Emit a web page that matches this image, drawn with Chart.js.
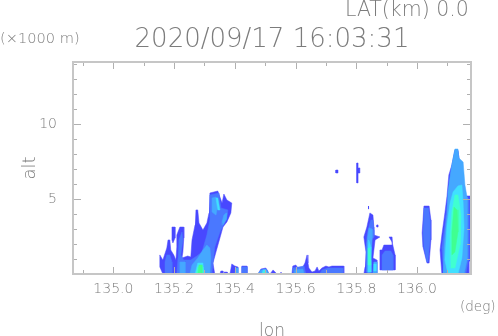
<!DOCTYPE html>
<html><head><meta charset="utf-8">
<style>html,body{margin:0;padding:0;background:#fff}#w{width:498px;height:336px;position:relative}</style>
<script src="https://cdn.jsdelivr.net/npm/chart.js@4"></script></head>
<body><div id="w"><canvas id="c" width="498" height="336"></canvas></div>
<script>
const levelColors = ['#4848ff','#4a78ff','#45a8ff','#40e0ff','#40ffd0','#40ff90'];
const xMajorTicks = [135.0,135.2,135.4,135.6,135.8,136.0];
const xMinorTicks = [134.9,135.1,135.3,135.5,135.7,135.9,136.1];
const yMajorTicks = [5,10];
const yMinorTicks = [1,2,3,4,6,7,8,9,11,12,13,14];
const titleText = '2020/09/17 16:03:31';

// Echo contours: [lon (deg), alt (x1000 m)], one list per reflectivity band
const deep = [
 [[135.163,0],[135.153,.47],[135.153,1.27],[135.163,.93],[135.176,1.73],[135.180,2.27],[135.186,2.27],[135.189,1.6],[135.199,1.27],[135.206,.93],[135.209,1.8],[135.209,2.6],[135.219,3.13],[135.232,3.13],[135.232,2.4],[135.229,1.47],[135.226,1.07],[135.245,1.2],[135.255,1.13],[135.259,2.27],[135.269,3.27],[135.272,4.27],[135.278,4.27],[135.282,3.4],[135.295,2.93],[135.308,3.4],[135.315,4.07],[135.318,5.4],[135.344,5.53],[135.351,5.13],[135.358,4.73],[135.364,5.33],[135.374,4.93],[135.390,4.73],[135.387,4.07],[135.374,3.47],[135.361,3.13],[135.351,2.4],[135.338,1.47],[135.328,.73],[135.334,0]],
 [[135.193,3.13],[135.203,3.13],[135.203,2.4],[135.196,2.07],[135.193,2.27]],
 [[135.351,0],[135.354,.2],[135.361,.2],[135.361,0]],
 [[135.384,0],[135.390,.67],[135.400,.53],[135.410,.47],[135.410,0]],
 [[135.423,0],[135.423,.53],[135.440,.53],[135.440,0]],
 [[135.365,0],[135.365,.13],[135.375,.13],[135.375,0]],
 [[135.476,0],[135.486,.33],[135.502,.4],[135.509,.2],[135.512,0]],
 [[135.516,0],[135.526,.27],[135.539,0]],
 [[135.549,0],[135.552,.13],[135.555,0]],
 [[135.588,0],[135.591,.53],[135.601,.6],[135.608,.4],[135.624,.47],[135.631,.73],[135.638,1.27],[135.641,.73],[135.644,.4],[135.654,.13],[135.664,.2],[135.671,.47],[135.677,.2],[135.687,.4],[135.700,.53],[135.710,.47],[135.720,.53],[135.759,.53],[135.759,0]],
 [[135.733,6.73],[135.740,6.73],[135.740,6.93],[135.733,6.93]],
 [[135.802,6.07],[135.806,6.07],[135.806,6.73],[135.812,6.73],[135.812,7.07],[135.806,7.07],[135.806,7.4],[135.802,7.4]],
 [[135.825,0],[135.829,.47],[135.832,1.47],[135.825,2.47],[135.835,3.13],[135.845,4.07],[135.855,3.93],[135.858,3.13],[135.858,2.6],[135.878,2.47],[135.862,2.27],[135.855,1.07],[135.868,.93],[135.868,0]],
 [[135.839,4.33],[135.842,4.33],[135.842,4.53],[135.839,4.53]],
 [[135.868,3.13],[135.872,3.13],[135.872,3.27],[135.868,3.27]],
 [[135.878,.27],[135.878,1.6],[135.885,1.6],[135.891,1.93],[135.921,1.93],[135.918,2.47],[135.908,2.47],[135.918,2.13],[135.928,1.27],[135.928,.27]],
 [[136.017,2.73],[136.023,4.53],[136.040,4.53],[136.046,3.6],[136.046,2.27],[136.040,.73],[136.033,.73],[136.020,1.8]],
 [[136.082,0],[136.076,1.6],[136.082,2.6],[136.092,4.07],[136.099,5.2],[136.105,6.6],[136.115,7.27],[136.125,8.27],[136.135,8.27],[136.152,5.2],[136.175,5.2],[136.178,5.2],[136.178,.93],[136.171,.8],[136.171,0]]
];
const mid = [
 [[135.170,0],[135.170,.8],[135.176,1.27],[135.186,1.27],[135.193,.8],[135.193,0]],
 [[135.209,0],[135.213,1.07],[135.216,2.27],[135.226,2.8],[135.229,2.27],[135.222,1.27],[135.232,.93],[135.245,.93],[135.255,.93],[135.275,1.2],[135.292,1.47],[135.308,2.6],[135.318,3.6],[135.318,5.27],[135.348,5.4],[135.354,4.4],[135.377,4.27],[135.374,3.73],[135.351,2.8],[135.334,1.8],[135.325,.13],[135.325,0]],
 [[135.423,0],[135.423,.47],[135.440,.47],[135.440,0]],
 [[135.591,0],[135.591,.4],[135.628,.53],[135.634,0]],
 [[135.680,0],[135.687,.27],[135.707,.4],[135.756,.4],[135.756,0]],
 [[135.835,0],[135.835,1.6],[135.835,2.47],[135.839,2.93],[135.848,3.6],[135.855,3.6],[135.858,2.93],[135.858,2.47],[135.852,2.27],[135.848,.93],[135.852,0]],
 [[135.885,.27],[135.885,1.27],[135.895,1.53],[135.914,1.53],[135.921,1.27],[135.921,.27]],
 [[136.020,2.8],[136.023,4.4],[136.038,4.4],[136.043,3.6],[136.043,2.27],[136.036,.8],[136.033,.8],[136.023,1.8]],
 [[136.089,0],[136.082,1.73],[136.092,3.27],[136.102,5.2],[136.112,6.93],[136.125,8.2],[136.135,8.2],[136.158,5.2],[136.171,5],[136.171,.93],[136.168,.8],[136.161,0]]
];
const sky = [
 [[135.219,0],[135.219,.8],[135.236,.8],[135.236,0]],
 [[135.252,0],[135.259,.6],[135.278,1.07],[135.295,1.6],[135.308,1.93],[135.318,1.73],[135.321,1.07],[135.318,0]],
 [[135.325,5.07],[135.338,5.13],[135.344,4.6],[135.338,3.93],[135.325,4.13]],
 [[135.364,3.93],[135.374,4.07],[135.371,3.6],[135.361,3.27],[135.358,3.47]],
 [[135.400,0],[135.403,.4],[135.410,.4],[135.410,0]],
 [[135.476,0],[135.486,.27],[135.502,.33],[135.509,.13],[135.509,0]],
 [[135.595,0],[135.598,.27],[135.624,.33],[135.628,0]],
 [[135.835,.13],[135.835,2.07],[135.842,3.07],[135.852,3],[135.852,2.4],[135.848,.93],[135.848,.13]],
 [[135.855,0],[135.858,.8],[135.868,.8],[135.868,0]],
 [[136.086,0],[136.089,1.73],[136.099,3.93],[136.102,5.47],[136.115,7.27],[136.125,8.33],[136.135,8.33],[136.138,7.73],[136.152,7.47],[136.158,5.93],[136.165,5.13],[136.165,3.27],[136.165,.93],[136.155,0]]
];
const cyan = [
 [[135.269,0],[135.278,.73],[135.295,.73],[135.298,0]],
 [[135.338,5.07],[135.344,5.07],[135.351,4.27],[135.344,4.27]],
 [[135.489,0],[135.493,.27],[135.502,.27],[135.505,0]],
 [[135.839,.13],[135.839,1.8],[135.842,2.27],[135.848,1.8],[135.848,.13]],
 [[135.858,.2],[135.858,.67],[135.865,.67],[135.865,.2]],
 [[136.102,0],[136.092,.93],[136.099,3.27],[136.109,4.73],[136.119,5.47],[136.135,5.87],[136.148,5.93],[136.152,4.8],[136.155,3.07],[136.148,1.07],[136.135,0]]
];
const teal = [
 [[135.272,0],[135.278,.47],[135.292,.47],[135.295,0]],
 [[135.839,.6],[135.839,1.73],[135.845,1.73],[135.848,.6]],
 [[135.493,0],[135.495,.13],[135.500,.13],[135.502,0]],
 [[136.112,.4],[136.109,2.4],[136.115,4.13],[136.125,5.27],[136.135,5.27],[136.145,3.93],[136.142,1.93],[136.125,.4]]
];
const green = [
 [[135.278,0],[135.282,.6],[135.292,.6],[135.292,0]],
 [[136.115,1.27],[136.115,2.8],[136.122,4.47],[136.132,4.27],[136.135,2.8],[136.125,1.47]]
];

const bands = [deep, mid, sky, cyan, teal, green];
const datasets = [];
bands.forEach((polys, level) => polys.forEach(poly => {
  datasets.push({
    data: poly.concat([poly[0]]),
    showLine: true, fill: false, tension: 0,
    backgroundColor: levelColors[level], borderColor: levelColors[level],
    borderWidth: 0.5, pointRadius: 0
  });
}));
const total = datasets.length;
datasets.forEach((d, i) => { d.order = total - i; });

const GREY = '#7c7c7c', FRAME = '#c6c6c6', TICK = '#b0b0b0';
const FONT = '"DejaVu Sans"';
const WEIGHT = '200';

// Fills each closed contour from the points the line element laid out on the scales
const contourFill = {
  id: 'contourFill',
  beforeDatasetDraw(chart, { meta, index }) {
    const pts = meta.dataset.points, ctx = chart.ctx, a = chart.chartArea;
    ctx.save();
    ctx.beginPath(); ctx.rect(a.left, a.top, a.right - a.left, a.bottom - a.top); ctx.clip();
    ctx.beginPath();
    pts.forEach((p, i) => i ? ctx.lineTo(p.x, p.y) : ctx.moveTo(p.x, p.y));
    ctx.closePath();
    ctx.fillStyle = chart.data.datasets[index].backgroundColor;
    ctx.fill();
    ctx.restore();
  }
};

const frame = {
  id: 'frame',
  afterDraw(chart) {
    const { ctx, chartArea: a, scales: { x, y } } = chart;
    ctx.save();
    ctx.strokeStyle = TICK; ctx.lineWidth = 1;
    const vt = (v, len) => {
      const p = Math.round(x.getPixelForValue(v)) + .5;
      ctx.beginPath();
      ctx.moveTo(p, a.bottom); ctx.lineTo(p, a.bottom - len);
      ctx.moveTo(p, a.top); ctx.lineTo(p, a.top + len);
      ctx.stroke();
    };
    const ht = (v, len) => {
      const p = Math.round(y.getPixelForValue(v)) + .5;
      ctx.beginPath();
      ctx.moveTo(a.left, p); ctx.lineTo(a.left + len, p);
      ctx.moveTo(a.right, p); ctx.lineTo(a.right - len, p);
      ctx.stroke();
    };
    xMajorTicks.forEach(v => vt(v, 7));
    xMinorTicks.forEach(v => vt(v, 4));
    yMajorTicks.forEach(v => ht(v, 8));
    yMinorTicks.forEach(v => ht(v, 4));
    ctx.strokeStyle = FRAME; ctx.lineWidth = 2;
    ctx.strokeRect(a.left, a.top, a.right - a.left, a.bottom - a.top);
    ctx.fillStyle = GREY; ctx.textBaseline = 'alphabetic';
    ctx.textAlign = 'left';
    ctx.font = WEIGHT + ' 20.5px ' + FONT; ctx.fillText('LAT(km) 0.0', 345, 16);
    ctx.font = WEIGHT + ' 14.6px ' + FONT; ctx.fillText('(×1000 m)', 0, 43);
    ctx.font = WEIGHT + ' 13.5px ' + FONT; ctx.fillText('(deg)', 460, 311);
    ctx.restore();
  }
};

new Chart(document.getElementById('c'), {
  type: 'scatter',
  data: { datasets },
  plugins: [contourFill, frame],
  options: {
    responsive: false, animation: false, events: [],
    layout: { padding: { top: 0, left: 0, right: 27, bottom: 0 } },
    plugins: {
      legend: { display: false }, tooltip: { enabled: false },
      title: { display: true, text: titleText, color: GREY, align: 'center', fullSize: false,
        font: { family: FONT, size: 26, weight: WEIGHT, lineHeight: 1 }, padding: { top: 27, bottom: 9 } }
    },
    scales: {
      x: {
        type: 'linear', min: 134.867, max: 136.178,
        afterFit(s) { s.height = 62; },
        grid: { display: false }, border: { display: false },
        title: { display: true, text: 'lon', color: GREY, font: { family: FONT, size: 17, weight: WEIGHT, lineHeight: 1 }, padding: { top: 0, bottom: -4 } },
        ticks: { autoSkip: false, maxRotation: 0, includeBounds: false, stepSize: 0.2, color: GREY, padding: -1,
          font: { family: FONT, size: 14, weight: WEIGHT },
          callback: v => xMajorTicks.some(t => Math.abs(t - v) < 1e-6) ? Number(v).toFixed(1) : '' }
      },
      y: {
        type: 'linear', min: 0, max: 14.13,
        afterFit(s) { s.width = 73; },
        grid: { display: false }, border: { display: false },
        title: { display: true, text: 'alt', color: GREY, font: { family: FONT, size: 18, weight: WEIGHT }, padding: { top: 20, bottom: 0 } },
        ticks: { autoSkip: false, includeBounds: false, stepSize: 5, color: GREY, padding: 8,
          font: { family: FONT, size: 14, weight: WEIGHT },
          callback: v => yMajorTicks.includes(v) ? String(v) : '' }
      }
    }
  }
});
</script></body></html>
